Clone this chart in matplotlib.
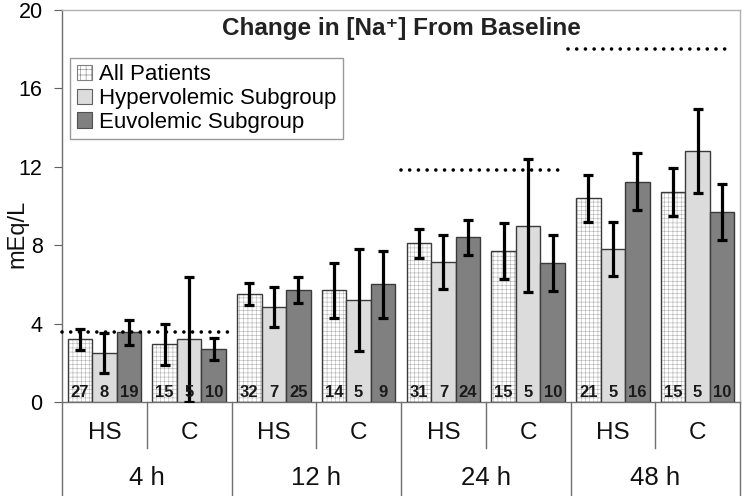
import matplotlib
matplotlib.use("Agg")
import matplotlib.pyplot as plt
import matplotlib.transforms as mtrans
from matplotlib.patches import Patch
import numpy as np

plt.rcParams['font.family'] = ['Liberation Sans', 'DejaVu Sans']
plt.rcParams['hatch.linewidth'] = 0.4

# ---- data ----
subgroups = ["HS", "C", "HS", "C", "HS", "C", "HS", "C"]
timepoints = ["4 h", "12 h", "24 h", "48 h"]
series_names = ["All Patients", "Hypervolemic Subgroup", "Euvolemic Subgroup"]

all_mean = [3.2, 2.95, 5.5, 5.7, 8.1, 7.7, 10.4, 10.7]
all_err = [0.55, 1.05, 0.57, 1.4, 0.75, 1.43, 1.2, 1.23]
hyper_mean = [2.5, 3.2, 4.85, 5.2, 7.15, 9.0, 7.8, 12.8]
hyper_err = [1.0, 3.2, 1.02, 2.6, 1.38, 3.38, 1.38, 2.14]
eu_mean = [3.55, 2.7, 5.7, 6.0, 8.4, 7.1, 11.25, 9.7]
eu_err = [0.65, 0.57, 0.67, 1.7, 0.9, 1.43, 1.47, 1.43]

n_all = [27, 15, 32, 14, 31, 15, 21, 15]
n_hyper = [8, 5, 7, 5, 7, 5, 5, 5]
n_eu = [19, 10, 25, 9, 24, 10, 16, 10]

# target (dotted) lines: value, x-start, x-end (in category units)
target_value = [3.55, 11.85, 18.0]
target_start = [-0.5, 3.5, 5.47]
target_end = [1.5, 5.4, 7.36]

# ---- figure ----
fig = plt.figure(figsize=(7.43, 4.96), dpi=100)
ax = fig.add_axes([62 / 743, (496 - 402) / 496, (740 - 62) / 743, (402 - 10) / 496])

x = np.arange(len(subgroups))
w = 0.29
edge = '#3a3a3a'

# All patients: hatched grid
ax.bar(x - w, all_mean, w, color='white', edgecolor='#b0b0b0', hatch='++++', linewidth=0, zorder=2)
ax.bar(x - w, all_mean, w, fill=False, edgecolor=edge, linewidth=1.0, zorder=3)
ax.bar(x, hyper_mean, w, color='#dcdcdc', edgecolor=edge, linewidth=1.0, zorder=3)
ax.bar(x + w, eu_mean, w, color='#808080', edgecolor=edge, linewidth=1.0, zorder=3)

for off, m, e in [(-w, all_mean, all_err), (0, hyper_mean, hyper_err), (w, eu_mean, eu_err)]:
    ax.errorbar(x + off, m, yerr=e, fmt='none', ecolor='black', elinewidth=2.3,
                capsize=3.8, capthick=2.3, zorder=4)

for off, ns in [(-w, n_all), (0, n_hyper), (w, n_eu)]:
    for xi, n in zip(x, ns):
        ax.text(xi + off, 0.46, str(n), ha='center', va='center', fontsize=12,
                fontweight='bold', color='#1a1a1a', zorder=5)

for v, s, e in zip(target_value, target_start, target_end):
    ax.plot([s, e], [v, v], color='black', linewidth=2.6, linestyle=(0, (0.01, 2.4)),
            dash_capstyle='round', zorder=5, clip_on=False)

ax.set_xlim(-0.5, 7.5)
ax.set_ylim(0, 20)
ax.set_yticks(np.arange(0, 21, 4))
ax.tick_params(axis='y', labelsize=15.5, length=6, pad=8, color='#606060', direction='out')
ax.set_xticks([])

fig.text(17 / 743, (496 - 234) / 496, "mEq/L", rotation=90, ha='center', va='center',
         fontsize=17, color='#111111')

for side in ['top', 'right']:
    ax.spines[side].set_color('#b0b0b0')
    ax.spines[side].set_linewidth(1.0)
for side in ['left', 'bottom']:
    ax.spines[side].set_color('#707070')
    ax.spines[side].set_linewidth(1.0)

tr = mtrans.blended_transform_factory(ax.transData, ax.transAxes)
ax.text(3.5, 0.954, "Change in [Na\u207a] From Baseline", transform=tr,
        ha='center', va='center', fontsize=17.5, fontweight='bold', color='#222222')

# legend
handles = [Patch(facecolor='white', edgecolor='#808080', hatch='+++', linewidth=0.8),
           Patch(facecolor='#dcdcdc', edgecolor='#606060', linewidth=0.8),
           Patch(facecolor='#808080', edgecolor='#505050', linewidth=0.8)]
leg = ax.legend(handles, series_names, loc='upper left', bbox_to_anchor=(0.012, 0.878),
                borderaxespad=0, fontsize=16, frameon=True, fancybox=False,
                handlelength=0.7, handleheight=0.7, handletextpad=0.3,
                labelspacing=0.12, borderpad=0.3)
leg.get_frame().set_edgecolor('#808080')
leg.get_frame().set_linewidth(1.0)

# category axis below
for xi, lab in zip(x, subgroups):
    ax.text(xi, -0.079, lab, transform=tr, ha='center', va='center', fontsize=17.5, color='#111111')
for i, lab in enumerate(timepoints):
    ax.text(2 * i + 0.5, -0.194, lab, transform=tr, ha='center', va='center', fontsize=18.5, color='#111111')
for xs in [0.5, 2.5, 4.5, 6.5]:
    ax.plot([xs, xs], [0, -0.117], transform=tr, color='#707070', linewidth=1.0, clip_on=False)
for xs in [-0.5, 1.5, 3.5, 5.5, 7.5]:
    ax.plot([xs, xs], [0, -0.245], transform=tr, color='#707070', linewidth=1.0, clip_on=False)

fig.savefig("out.png", dpi=100)
